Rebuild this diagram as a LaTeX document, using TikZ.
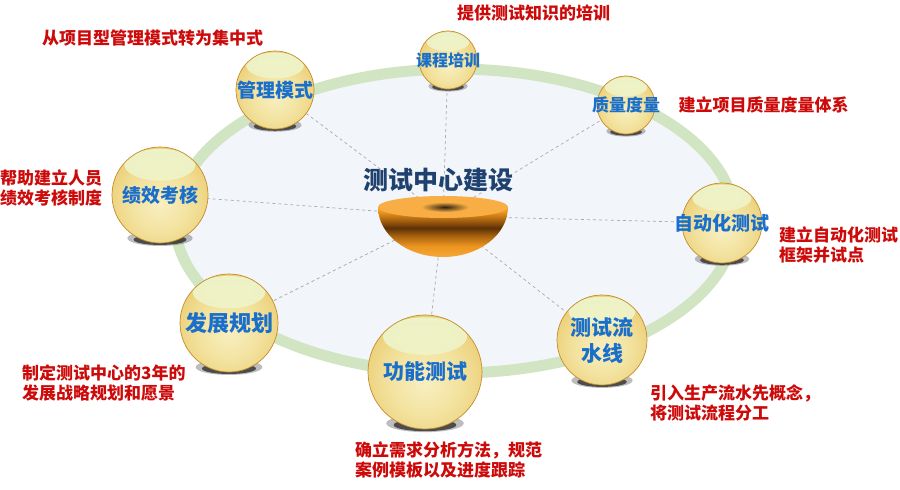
\documentclass[tikz,border=0pt]{standalone}
\usepackage{fontspec}
\setmainfont{Noto Sans CJK SC}
\usetikzlibrary{positioning,backgrounds}
\definecolor{ballblue}{HTML}{1A6FCB}
\definecolor{notered}{HTML}{CC0A0A}
\definecolor{titlenavy}{HTML}{1E4170}
\definecolor{ringgreen}{HTML}{D2E5C2}
\definecolor{plate}{HTML}{F2F5FA}
\definecolor{spokegray}{HTML}{ABABAB}
\definecolor{balledge}{HTML}{C48C28}
\definecolor{gbA}{HTML}{F8EFC0}
\definecolor{gbB}{HTML}{F3E3A0}
\definecolor{gbC}{HTML}{ECD07A}
\definecolor{gbD}{HTML}{E3BD58}
\definecolor{gbE}{HTML}{D6A640}
\definecolor{gbF}{HTML}{C99530}
\definecolor{glossA}{HTML}{EDF7D0}
\definecolor{glossB}{HTML}{F2EDB6}
\definecolor{bowlA}{HTML}{F6A838}
\definecolor{bowlB}{HTML}{EC941F}
\definecolor{bowlC}{HTML}{A9630F}
\definecolor{bowlD}{HTML}{5C3106}
\definecolor{rimorange}{HTML}{F8AE44}
\definecolor{hole}{HTML}{2E2110}
\pgfdeclareradialshading{goldball}{\pgfpoint{0bp}{-5bp}}{color(0bp)=(gbA); color(15bp)=(gbB); color(28bp)=(gbC); color(38bp)=(gbD); color(46bp)=(gbE); color(52bp)=(gbF); color(100bp)=(gbF)}
\pgfdeclareverticalshading{bowlbody}{100bp}{color(0bp)=(bowlA); color(25bp)=(bowlA); color(36bp)=(bowlB); color(46bp)=(bowlC); color(54bp)=(bowlD); color(62bp)=(bowlC); color(70bp)=(bowlB); color(75bp)=(bowlA); color(100bp)=(bowlA)}
\tikzset{
  ball/.style={circle, minimum size=2*#1pt, inner sep=-15pt, shading=goldball, draw=balledge, line width=.7pt, text=ballblue, align=center,
    path picture={\path[top color=glossA, bottom color=glossB, opacity=.9] ([yshift=-.37*#1pt]path picture bounding box.north) ellipse [x radius=.74*#1pt, y radius=.33*#1pt];}},
  ballshd/.style={fill=black!85, opacity=.75},
  note/.style={text=notered, font=\bfseries\fontsize{17}{20}\selectfont, align=left, inner sep=0pt, anchor=west},
  spoke/.style={draw=spokegray, dashed, line width=.7pt}
}
\begin{document}
\begin{tikzpicture}[x=1pt, y=-1pt]
\useasboundingbox (0,0) rectangle (900,490);
\coordinate (Z) at (443,216);
% balls round the ring
\foreach \n/\x/\y/\rad/\fs/\txt in {KC/448/60/29/16/课程培训, GL/275/90/39/19/管理模式, JX/160/195/48/19/绩效考核, FZ/229/323/49/22/发展规划, GN/425/372/57/21/功能测试, LS/602/340/45/21/{测试流\\水线}, ZD/722/223/40/19/自动化测试, ZL/626/105/29/17/质量度量}{
  \fill[ballshd, opacity=.3] (\x,{\y+.9*\rad}) ellipse [x radius=.68*\rad pt, y radius=.12*\rad pt+2pt];
  \fill[ballshd] (\x,{\y+.93*\rad}) ellipse [x radius=.55*\rad pt, y radius=.09*\rad pt+1pt];
  \node[ball=\rad, font=\bfseries\fontsize{\fs}{26}\selectfont] (\n) at (\x,\y) {\txt};
}
% the bowl
\shade[shading=bowlbody] (378,207) arc [start angle=180, end angle=360, x radius=65pt, y radius=50pt] -- cycle;
\fill[rimorange] (443,207) ellipse [x radius=65pt, y radius=11pt];
\shade[inner color=hole, outer color=rimorange] (445,207) ellipse [x radius=24pt, y radius=5pt];
\node[font=\bfseries\fontsize{25}{30}\selectfont, text=titlenavy] (T) at (438,180) {测试中心建设};
% notes
\node[note] (KCt) at (457,13) {提供测试知识的培训};
\node[note] (GLt) at (42,38) {从项目型管理模式转为集中式};
\node[note, right=23pt of ZL] (ZLt) {建立项目质量度量体系};
\node[note] (ZDt) at (779,245) {建立自动化测试\\框架并试点};
\node[note] (JXt) at (0,188) {帮助建立人员\\绩效考核制度};
\node[note] (FZt) at (22,383) {制定测试中心的3年的\\发展战略规划和愿景};
\node[note] (GNt) at (355,460) {确立需求分析方法，规范\\案例模板以及进度跟踪};
\node[note] (LSt) at (650,403) {引入生产流水先概念，\\将测试流程分工};
\begin{scope}[on background layer]
\draw[ringgreen, line width=11pt, fill=plate] (455,221) ellipse [x radius=280pt, y radius=152pt];
\foreach \n in {KC,GL,JX,FZ,GN,LS,ZD,ZL} \draw[spoke] (Z) -- (\n);
\end{scope}
\end{tikzpicture}
\end{document}
